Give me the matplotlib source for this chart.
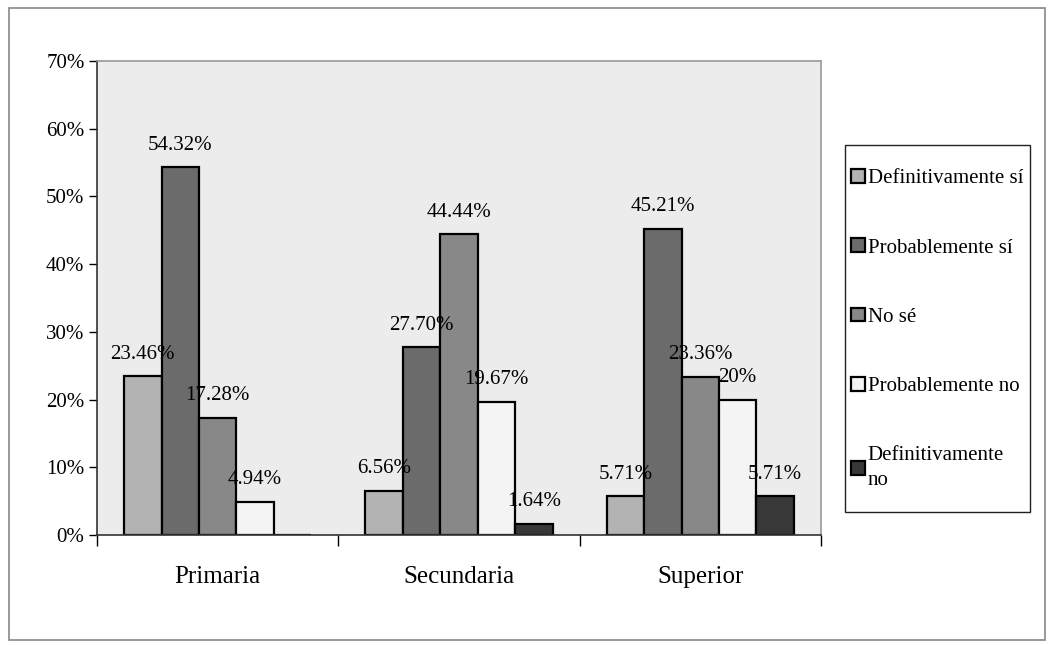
import numpy as np
import matplotlib
matplotlib.use('Agg')
import matplotlib.pyplot as plt
from matplotlib.patches import Rectangle, Patch

plt.rcParams['font.family'] = ['Liberation Serif', 'DejaVu Serif']

categories = ['Primaria', 'Secundaria', 'Superior']
series = ['Definitivamente sí', 'Probablemente sí', 'No sé',
          'Probablemente no', 'Definitivamente\nno']
values = [
    [23.46, 6.56, 5.71],    # Definitivamente sí
    [54.32, 27.70, 45.21],  # Probablemente sí
    [17.28, 44.44, 23.36],  # No sé
    [4.94, 19.67, 20.0],    # Probablemente no
    [0.0, 1.64, 5.71],      # Definitivamente no
]
labels = [
    ['23.46%', '6.56%', '5.71%'],
    ['54.32%', '27.70%', '45.21%'],
    ['17.28%', '44.44%', '23.36%'],
    ['4.94%', '19.67%', '20%'],
    ['', '1.64%', '5.71%'],
]
colors = ['#b3b3b3', '#6b6b6b', '#888888', '#f4f4f4', '#383838']

fig = plt.figure(figsize=(10.5, 6.45), dpi=100)
ax = fig.add_axes([97/1050, 1-535/645, (821-97)/1050, (535-61)/645])
ax.set_facecolor('#ececec')

x = np.arange(len(categories))
w = 0.155
for i in range(len(series)):
    pos = x + (i - 2) * w
    ax.bar(pos, values[i], w, color=colors[i], edgecolor='black', linewidth=1.6, zorder=2)
    for j in range(len(categories)):
        if labels[i][j]:
            ax.annotate(labels[i][j], (pos[j], values[i][j]), xytext=(0, 9),
                        textcoords='offset points', ha='center', va='bottom',
                        fontsize=15, zorder=5)

ax.set_xlim(-0.5, 2.5)
ax.set_ylim(0, 70)
ax.set_yticks(np.arange(0, 71, 10))
ax.set_yticklabels(['%d%%' % v for v in range(0, 71, 10)], fontsize=15)
ax.set_xticks(x)
ax.set_xticklabels(categories, fontsize=18)
ax.tick_params(axis='x', which='major', length=0, pad=22)
ax.set_xticks([-0.5, 0.5, 1.5, 2.5], minor=True)
ax.tick_params(axis='x', which='minor', length=8, width=1, direction='out')
ax.tick_params(axis='y', length=6, width=1, direction='out', pad=3)

for s in ['top', 'right']:
    ax.spines[s].set_color('#999999')
    ax.spines[s].set_linewidth(1.2)
for s in ['left', 'bottom']:
    ax.spines[s].set_color('#333333')
    ax.spines[s].set_linewidth(1.2)

# legend box drawn separately so the entries can sit close to its left edge
fig.patches.append(Rectangle((845/1050, 1-512/645), 185/1050, 367/645, transform=fig.transFigure,
                             facecolor='white', edgecolor='#222222', linewidth=1.0))
handles = [Patch(facecolor=colors[i], edgecolor='black', linewidth=1.6) for i in range(len(series))]
leg = fig.legend(handles, series, loc='upper left', bbox_to_anchor=(851/1050, 1-169/645),
                 fontsize=15, frameon=False,
                 handlelength=0.65, handleheight=0.65, handletextpad=0.15,
                 labelspacing=2.4, borderpad=0, borderaxespad=0)
leg.get_texts()[4].set_linespacing(1.45)

fig.patches.append(Rectangle((9/1050, 1-640/645), 1036/1050, 632/645, transform=fig.transFigure,
                             fill=False, edgecolor='#888888', linewidth=1.2))

fig.savefig('out.png', dpi=100)
